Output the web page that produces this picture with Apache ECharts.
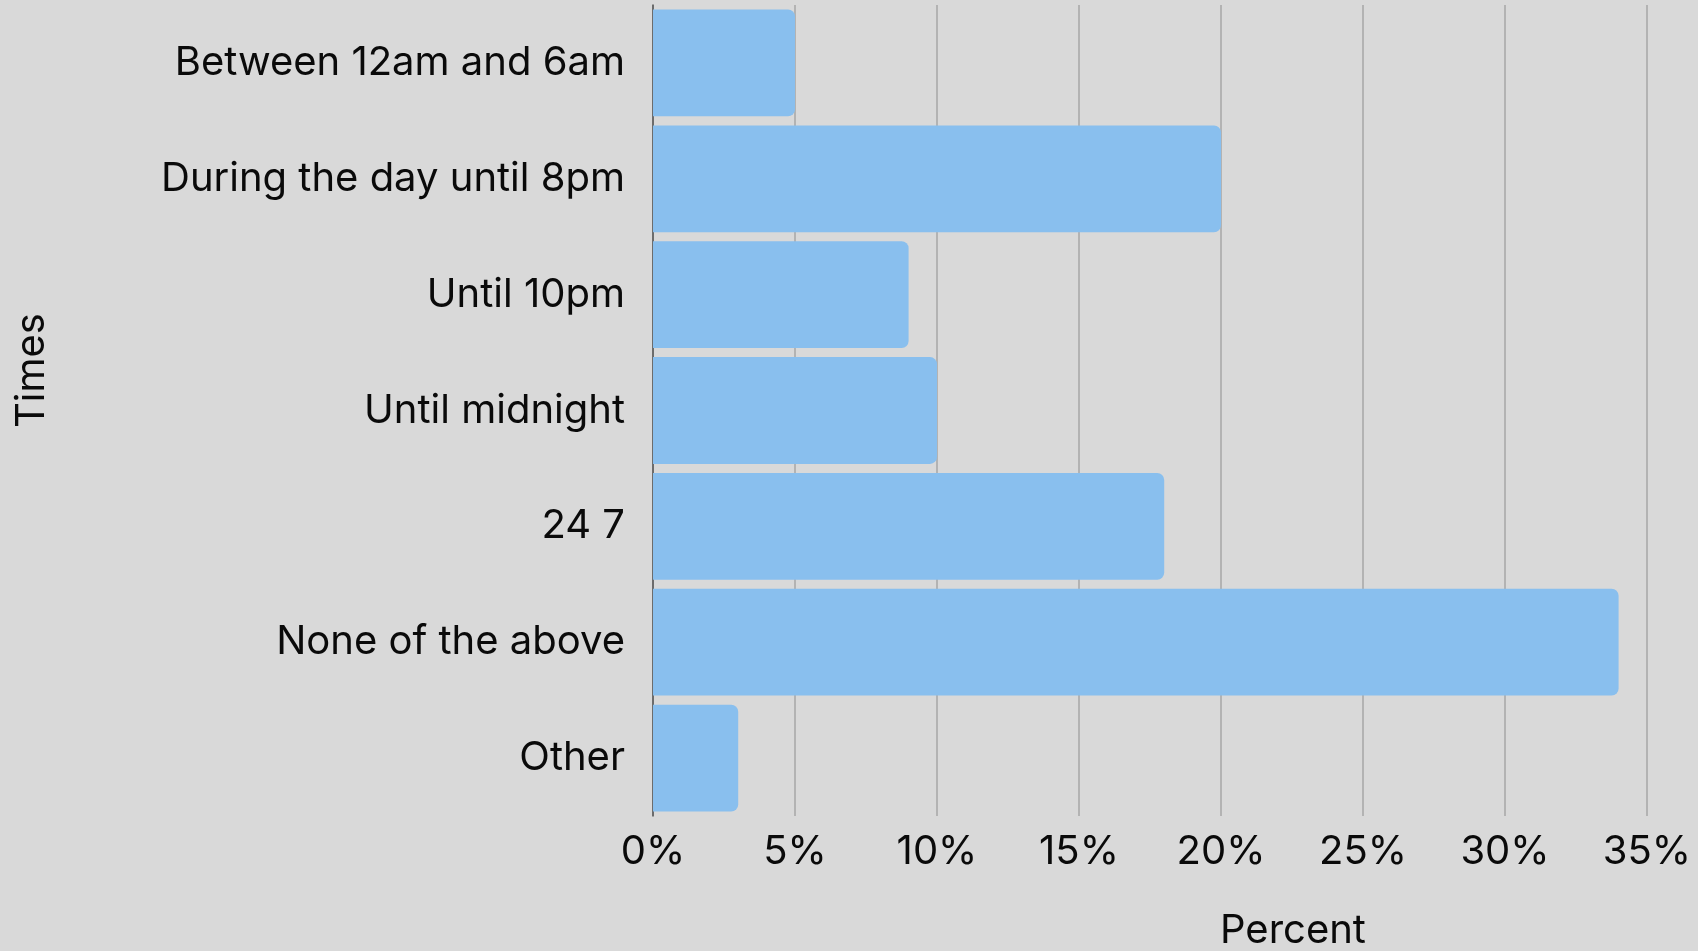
<!DOCTYPE html>
<html>
<head>
<meta charset="utf-8">
<script src="https://cdn.jsdelivr.net/npm/echarts@6/dist/echarts.min.js"></script>
<style>
html,body{margin:0;padding:0;background:#d9d9d9;}
#chart{width:1698px;height:951px;}
</style>
</head>
<body>
<div id="chart"></div>
<script>
const categories = ["Between 12am and 6am","During the day until 8pm","Until 10pm","Until midnight","24 7","None of the above","Other"];
const percentValues = [5, 20, 9, 10, 18, 34, 3];
const xTickMax = 35;
const xTickStep = 5;

const FONT = "Inter";
const FS = 40;
const chart = echarts.init(document.getElementById('chart'));
chart.setOption({
  backgroundColor: '#d9d9d9',
  animation: false,
  grid: {left: 653, right: 51, top: 5, bottom: 135, containLabel: false},
  xAxis: {
    type: 'value', min: 0, max: xTickMax, interval: xTickStep,
    axisLine: {show: false}, axisTick: {show: false},
    splitLine: {show: true, lineStyle: {color: '#a6a6a6', width: 1.5}},
    axisLabel: {formatter: '{value}%', color: '#0a0a0a', fontFamily: FONT, fontSize: FS, margin: 16}
  },
  yAxis: {
    type: 'category', data: categories, inverse: true,
    axisLine: {show: true, lineStyle: {color: '#555', width: 1.5}},
    axisTick: {show: false},
    axisLabel: {color: '#0a0a0a', fontFamily: FONT, fontSize: FS, margin: 28}
  },
  series: [{
    type: 'bar', data: percentValues, barCategoryGap: '7.8%',
    itemStyle: {color: '#89bfee', borderRadius: [0, 7, 7, 0]}
  }],
  graphic: [
    {type: 'text', left: 1220, top: 911, style: {text: 'Percent', font: FS + 'px ' + FONT, fill: '#0a0a0a'}},
    {type: 'text', x: 12, y: 428, rotation: Math.PI/2, style: {text: 'Times', font: FS + 'px ' + FONT, fill: '#0a0a0a', textVerticalAlign: 'top'}}
  ]
});
</script>
</body>
</html>
